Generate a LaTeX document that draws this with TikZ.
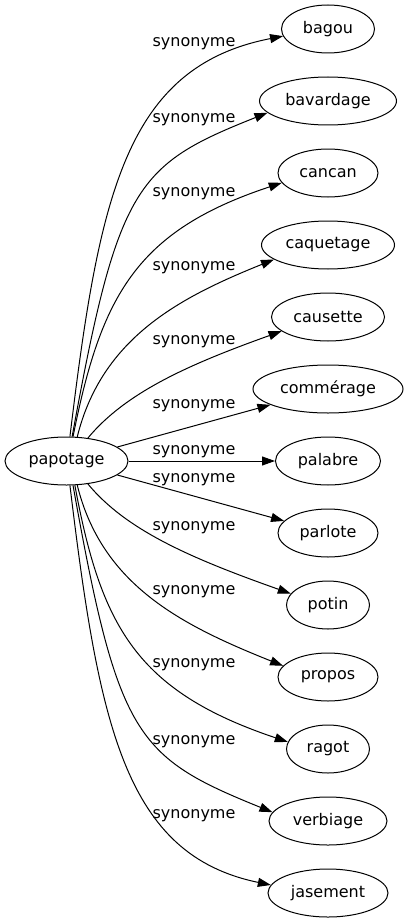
\documentclass[tikz,border=0pt]{standalone}
\usepackage{fontspec}
\setmainfont{DejaVu Sans}
\usepackage{tikz}
\usetikzlibrary{arrows.meta}
\usetikzlibrary{shapes,shapes.geometric}
\pgfdeclarelayer{edgelayer}
\pgfdeclarelayer{nodelayer}
\pgfsetlayers{edgelayer,nodelayer,main}
\tikzstyle{none}=[inner sep=0mm]
\tikzstyle{word}=[draw=black,shape=ellipse,line width=1pt,minimum height=48pt,inner sep=0pt,font=\fontsize{16}{19}\selectfont]
\tikzstyle{lbl}=[none,anchor=base,font=\fontsize{16}{19}\selectfont]
\tikzstyle{syn}=[-{Triangle[length=13pt,width=9pt]},line width=1pt]

\begin{document}
\begin{tikzpicture}[x=1pt,y=-1pt]
	\useasboundingbox (0,0) rectangle (409,923);
	\begin{pgfonlayer}{nodelayer}
		\node [style=word, minimum width=123pt] (0) at (66.5, 461) {papotage};
		\node [style=word, minimum width=93pt] (1) at (328, 29) {bagou};
		\node [style=word, minimum width=137pt] (2) at (328, 101) {bavardage};
		\node [style=word, minimum width=100pt] (3) at (328, 173) {cancan};
		\node [style=word, minimum width=133pt] (4) at (328, 245) {caquetage};
		\node [style=word, minimum width=113pt] (5) at (328, 317) {causette};
		\node [style=word, minimum width=150pt] (6) at (328, 389) {commérage};
		\node [style=word, minimum width=105pt] (7) at (328, 461) {palabre};
		\node [style=word, minimum width=100pt] (8) at (328, 533) {parlote};
		\node [style=word, minimum width=83pt] (9) at (328, 605) {potin};
		\node [style=word, minimum width=100pt] (10) at (328, 677) {propos};
		\node [style=word, minimum width=83pt] (11) at (328, 749) {ragot};
		\node [style=word, minimum width=118pt] (12) at (328, 821) {verbiage};
		\node [style=word, minimum width=120pt] (13) at (328, 893) {jasement};
		\node [style=lbl] (14) at (194, 46.5) {synonyme};
		\node [style=lbl] (15) at (194, 122.5) {synonyme};
		\node [style=lbl] (16) at (194, 196.5) {synonyme};
		\node [style=lbl] (17) at (194, 270.5) {synonyme};
		\node [style=lbl] (18) at (194, 344.5) {synonyme};
		\node [style=lbl] (19) at (194, 408.5) {synonyme};
		\node [style=lbl] (20) at (194, 454.5) {synonyme};
		\node [style=lbl] (21) at (194, 482.5) {synonyme};
		\node [style=lbl] (22) at (194, 530.5) {synonyme};
		\node [style=lbl] (23) at (194, 594.5) {synonyme};
		\node [style=lbl] (24) at (194, 667.5) {synonyme};
		\node [style=lbl] (25) at (194, 744.5) {synonyme};
		\node [style=lbl] (26) at (194, 818.5) {synonyme};
	\end{pgfonlayer}
	\begin{pgfonlayer}{edgelayer}
		\draw [style=syn] (0.82) .. controls (99, 196) and (125, 67) .. (1.189);
		\draw [style=syn] (0.77) .. controls (118, 185) and (136, 165) .. (2.191);
		\draw [style=syn] (0.75) .. controls (101, 296) and (136, 231) .. (3.192);
		\draw [style=syn] (0.66) .. controls (102, 337) and (181, 297) .. (4.195);
		\draw [style=syn] (0.47) .. controls (126, 392) and (190, 364) .. (5.197);
		\draw [style=syn] (0) -- (6);
		\draw [style=syn] (0) -- (7);
		\draw [style=syn] (0) -- (8);
		\draw [style=syn] (0.-47) .. controls (126, 530) and (190, 558) .. (9.163);
		\draw [style=syn] (0.-66) .. controls (102, 585) and (181, 625) .. (10.166);
		\draw [style=syn] (0.-71) .. controls (101, 626) and (136, 691) .. (11.170);
		\draw [style=syn] (0.-75) .. controls (118, 737) and (136, 757) .. (12.171);
		\draw [style=syn] (0.-82) .. controls (99, 726) and (125, 855) .. (13.172);
	\end{pgfonlayer}
\end{tikzpicture}
\end{document}
